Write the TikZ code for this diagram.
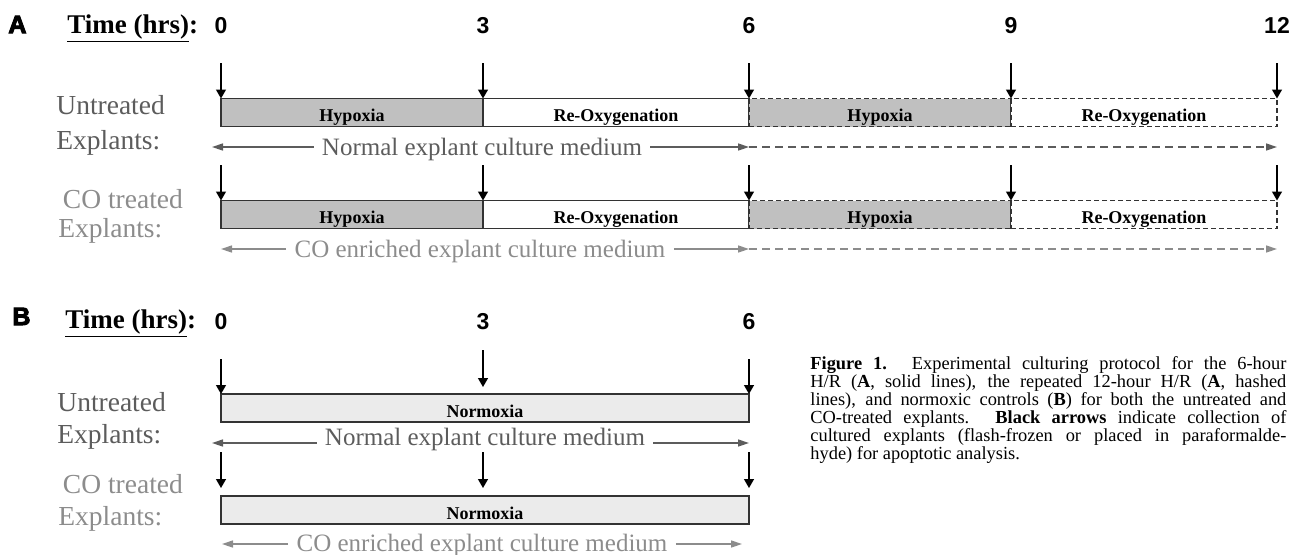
\documentclass[tikz,border=0pt]{standalone}
\usepackage{fontspec}
\setmainfont{Liberation Serif}
\newfontfamily\arialfont{Liberation Sans}
\newfontfamily\heavyfont[BoldFeatures={FakeBold=4}]{Liberation Sans}
\usepackage{tikz}
\usetikzlibrary{arrows.meta,positioning}

\definecolor{boxline}{HTML}{333333}
\definecolor{hypfill}{HTML}{C0C0C0}
\definecolor{normfill}{HTML}{EBEBEB}
\definecolor{untrgray}{HTML}{5C5C5C}
\definecolor{cogray}{HTML}{8C8C8C}

\tikzset{
  seg/.style={draw=boxline, line width=0.75pt, inner sep=0pt, outer sep=0pt,
    text height=11.5pt, text depth=2.5pt, font=\bfseries\fontsize{9}{9}\selectfont},
  hyp/.style={seg, fill=hypfill},
  reox/.style={seg, fill=white},
  norm/.style={seg, fill=normfill, minimum width=264pt},
  hashed/.style={dash pattern=on 2.5pt off 1.5pt},
  collect/.style={-{Triangle[length=4.5pt,width=5pt]}, line width=0.65pt},
  medium/.style={line width=0.75pt, -{Triangle[length=5.5pt,width=3.5pt]}},
  medtext/.style={font=\fontsize{12.5}{12.5}\selectfont, inner xsep=4pt, anchor=base},
  hour/.style={font=\arialfont\bfseries\fontsize{11.5}{11.5}\selectfont, anchor=base},
  group/.style={font=\fontsize{13.75}{16}\selectfont, align=left, anchor=base west, inner sep=0pt},
  panel/.style={font=\heavyfont\bfseries\fontsize{12.5}{12.5}\selectfont, anchor=base west, inner sep=0pt},
  timelbl/.style={font=\bfseries\fontsize{13.5}{13.5}\selectfont, anchor=base west, inner sep=0pt}
}

\begin{document}
\begin{tikzpicture}[x=0.5pt, y=-0.5pt, node distance=37pt]
  \useasboundingbox (0,0) rectangle (1292,554);

  % panel A
  \node[panel] (pA) at (8,33) {A};
  \node[timelbl] (tA) at (67,33) {\underline{Time (hrs)}:};
  \foreach \h/\x in {0/221,3/483,6/749,9/1011,12/1277}{
    \node[hour] (hA\h) at (\x,33) {\h};
    \coordinate (cA\h) at (\x,63);
    \coordinate (dA\h) at (\x,165);
  }

  \node[group, text=untrgray] (grpU) at (56,149) {Untreated\\[1.5pt]Explants:};
  \node[group, text=cogray] (grpC) at (58,237) {\,CO treated\\[-1.5pt]Explants:};

  \node[hyp, minimum width=131pt] (hypU1) at (352,112.5) {Hypoxia};
  \node[reox, minimum width=133pt, right=0pt of hypU1] (reoxU1) {Re-Oxygenation};
  \node[hyp, hashed, minimum width=131pt, right=0pt of reoxU1] (hypU2) {Hypoxia};
  \node[reox, hashed, minimum width=133pt, right=0pt of hypU2] (reoxU2) {Re-Oxygenation};

  \node[hyp, minimum width=131pt, below=of hypU1] (hypC1) {Hypoxia};
  \node[reox, minimum width=133pt, right=0pt of hypC1] (reoxC1) {Re-Oxygenation};
  \node[hyp, hashed, minimum width=131pt, right=0pt of reoxC1] (hypC2) {Hypoxia};
  \node[reox, hashed, minimum width=133pt, right=0pt of hypC2] (reoxC2) {Re-Oxygenation};

  \foreach \h in {0,3,6,9,12}{
    \draw[collect] (cA\h) -- (cA\h |- hypU1.north);
    \draw[collect] (dA\h) -- (dA\h |- hypC1.north);
  }

  \node[medtext, text=untrgray] (medU) at (482,155) {Normal explant culture medium};
  \coordinate (medUl) at (212,147);
  \coordinate (medUm) at (749,147);
  \coordinate (medUr) at (1277,147);
  \draw[medium, untrgray] (medU.west |- medUl) -- (medUl);
  \draw[medium, untrgray] (medU.east |- medUm) -- (medUm);
  \draw[medium, untrgray, dash pattern=on 4pt off 2.5pt] (medUm) -- (medUr);

  \node[medtext, text=cogray] (medC) at (480,257) {CO enriched explant culture medium};
  \coordinate (medCl) at (221,249);
  \coordinate (medCm) at (749,249);
  \coordinate (medCr) at (1277,249);
  \draw[medium, cogray] (medC.west |- medCl) -- (medCl);
  \draw[medium, cogray] (medC.east |- medCm) -- (medCm);
  \draw[medium, cogray, dash pattern=on 4pt off 2.5pt] (medCm) -- (medCr);

  % panel B
  \node[panel] (pB) at (12,325) {B};
  \node[timelbl] (tB) at (65,328) {\underline{Time (hrs)}:};
  \foreach \h/\x in {0/221,3/483,6/749}{
    \node[hour] (hB\h) at (\x,329) {\h};
    \coordinate (dB\h) at (\x,452);
    \coordinate (eB\h) at (\x,488);
  }
  \coordinate (cB0) at (221,359);
  \coordinate (cB3) at (483,350);
  \coordinate (fB3) at (483,387);
  \coordinate (cB6) at (749,359);

  \node[group, text=untrgray] (grpUB) at (57,443) {Untreated\\Explants:};
  \node[group, text=cogray] (grpCB) at (58,525) {\,CO treated\\Explants:};

  \node[norm] (normU) at (485,408) {Normoxia};
  \node[norm, below=of normU] (normC) {Normoxia};

  \draw[collect] (cB0) -- (cB0 |- normU.north);
  \draw[collect] (cB3) -- (fB3);
  \draw[collect] (cB6) -- (cB6 |- normU.north);
  \foreach \h in {0,3,6}
    \draw[collect] (dB\h) -- (eB\h);

  \node[medtext, text=untrgray] (medUB) at (485,445) {Normal explant culture medium};
  \coordinate (medUBl) at (212,443);
  \coordinate (medUBr) at (749,443);
  \draw[medium, untrgray] (medUB.west |- medUBl) -- (medUBl);
  \draw[medium, untrgray] (medUB.east |- medUBr) -- (medUBr);

  \node[medtext, text=cogray] (medCB) at (482,551) {CO enriched explant culture medium};
  \coordinate (medCBl) at (222,544);
  \coordinate (medCBr) at (742,544);
  \draw[medium, cogray] (medCB.west |- medCBl) -- (medCBl);
  \draw[medium, cogray] (medCB.east |- medCBr) -- (medCBr);

  % caption
  \node[anchor=north west, inner sep=0pt, text width=238pt, align=justify,
        font=\fontsize{9.2}{9}\selectfont] (cap) at (810,356)
    {\textbf{Figure 1.} Experimental culturing protocol for the 6-hour\linebreak
     H/R (\textbf{A}, solid lines), the repeated 12-hour H/R (\textbf{A}, hashed\linebreak
     lines), and normoxic controls (\textbf{B}) for both the untreated and\linebreak
     CO-treated explants. \textbf{Black arrows} indicate collection of\linebreak
     cultured explants (flash-frozen or placed in paraformalde-\linebreak
     hyde) for apoptotic analysis.};
\end{tikzpicture}
\end{document}
